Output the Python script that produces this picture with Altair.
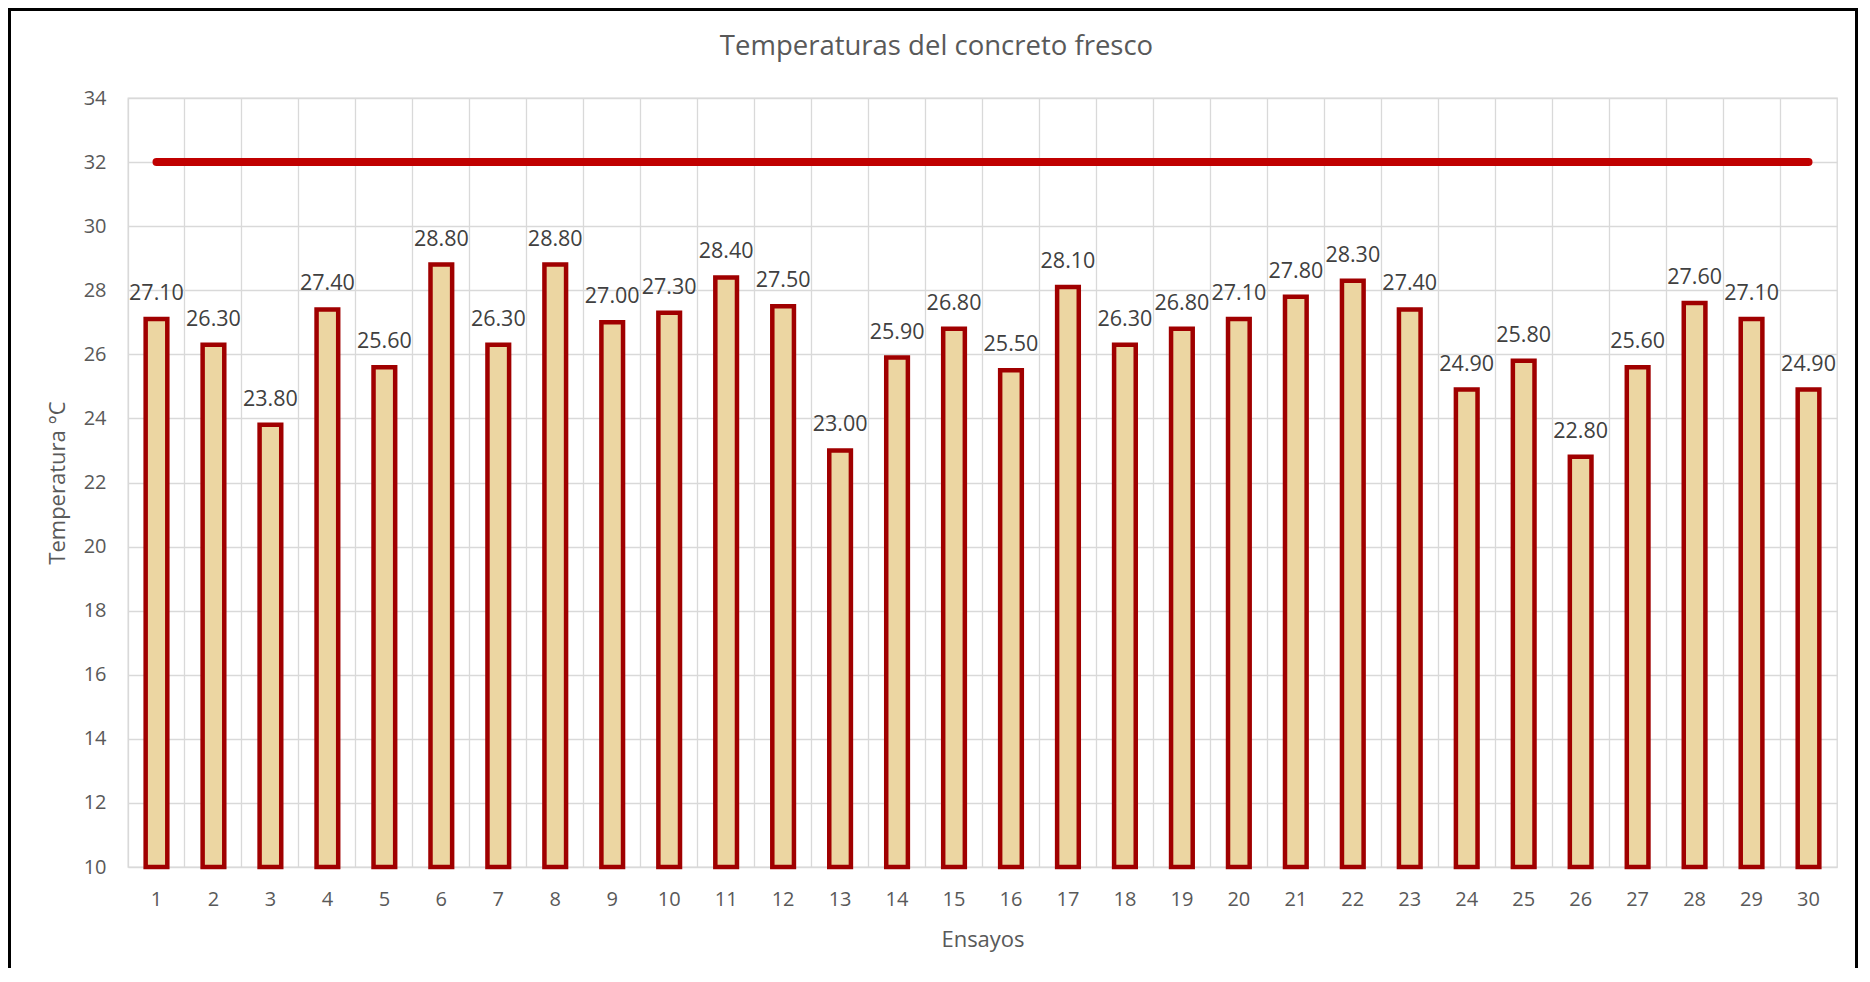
import altair as alt
import pandas as pd

# ---- data ----
ensayos = ["1", "2", "3", "4", "5", "6", "7", "8", "9", "10",
           "11", "12", "13", "14", "15", "16", "17", "18", "19", "20",
           "21", "22", "23", "24", "25", "26", "27", "28", "29", "30"]
temperaturas = [27.10, 26.30, 23.80, 27.40, 25.60, 28.80, 26.30, 28.80, 27.00, 27.30,
                28.40, 27.50, 23.00, 25.90, 26.80, 25.50, 28.10, 26.30, 26.80, 27.10,
                27.80, 28.30, 27.40, 24.90, 25.80, 22.80, 25.60, 27.60, 27.10, 24.90]
limite = [32.0, 32.0, 32.0, 32.0, 32.0, 32.0, 32.0, 32.0, 32.0, 32.0,
          32.0, 32.0, 32.0, 32.0, 32.0, 32.0, 32.0, 32.0, 32.0, 32.0,
          32.0, 32.0, 32.0, 32.0, 32.0, 32.0, 32.0, 32.0, 32.0, 32.0]
y_min, y_max = 10, 34

df = pd.DataFrame({"ensayo": ensayos, "temp": temperaturas, "limite": limite})

W, H = 1709, 769
PAD = {"left": 120, "top": 90, "right": 21, "bottom": 101}
FONT = "Open Sans"
GRAY = "#595959"

x_enc = alt.X(
    "ensayo:N", sort=ensayos, title="Ensayos",
    scale=alt.Scale(paddingInner=0, paddingOuter=0),
    axis=alt.Axis(labelAngle=0, bandPosition=0, grid=True, gridColor="#D9D9D9",
                  gridWidth=1.3, ticks=False, domain=False, labelFontSize=20,
                  labelFont=FONT, labelColor=GRAY, labelPadding=22,
                  titleFont=FONT, titleFontSize=22, titleFontWeight="normal",
                  titleColor=GRAY, titlePadding=20),
)
y_scale = alt.Scale(domain=[y_min, y_max], nice=False, zero=False)
y_axis = alt.Axis(values=list(range(y_min, y_max + 1, 2)), grid=True, gridColor="#D9D9D9",
                  gridWidth=1.3, ticks=False, domain=False, labelFontSize=20,
                  labelFont=FONT, labelColor=GRAY, labelPadding=22,
                  titleFont=FONT, titleFontSize=22, titleFontWeight="normal",
                  titleColor=GRAY, titlePadding=14)

base = alt.Chart(df)

bars = base.mark_bar(
    width=alt.RelativeBandSize(0.38), fill="#ECD6A2", stroke="#A00000",
    strokeWidth=4.5, strokeJoin="miter",
).encode(
    x=x_enc,
    y=alt.Y("temp:Q", scale=y_scale, axis=y_axis, title="Temperatura °C"),
    y2=alt.datum(y_min),
)

labels = base.mark_text(
    dy=-19, baseline="alphabetic", fontSize=21.5, font=FONT, color="#404040",
).encode(
    x=alt.X("ensayo:N", sort=ensayos),
    y=alt.Y("temp:Q", scale=y_scale),
    text=alt.Text("temp:Q", format=".2f"),
)

line = base.mark_line(color="#C00000", strokeWidth=8, strokeCap="round").encode(
    x=alt.X("ensayo:N", sort=ensayos),
    y=alt.Y("limite:Q", scale=y_scale),
)

# decorative outer frame (left, top, right edges; bottom lies below the window)
one = pd.DataFrame({"k": [0]})
L = -PAD["left"] + 1.5
R = W + PAD["right"] - 1.5
T = -PAD["top"] + 1.5
B = H + PAD["bottom"]
frame_style = dict(color="black", strokeWidth=3, clip=False)
frame_left = alt.Chart(one).mark_rule(**frame_style).encode(
    x=alt.value(L), y=alt.value(T - 1.5), y2=alt.value(B))
frame_right = alt.Chart(one).mark_rule(**frame_style).encode(
    x=alt.value(R), y=alt.value(T - 1.5), y2=alt.value(B))
frame_top = alt.Chart(one).mark_rule(**frame_style).encode(
    x=alt.value(L - 1.5), x2=alt.value(R + 1.5), y=alt.value(T))

chart = alt.layer(frame_left, frame_right, frame_top, bars, labels, line).properties(
    width=W, height=H,
    title=alt.Title("Temperaturas del concreto fresco", fontSize=27.5, font=FONT,
                    fontWeight="normal", color=GRAY, anchor="middle", offset=0,
                    dx=-46, dy=54),
    autosize=alt.AutoSizeParams(type="none"),
    padding=PAD,
    background="white",
).configure_view(stroke="#D9D9D9", strokeWidth=1.3)

chart.save("out.html", embed_options={"renderer": "svg", "actions": False})
